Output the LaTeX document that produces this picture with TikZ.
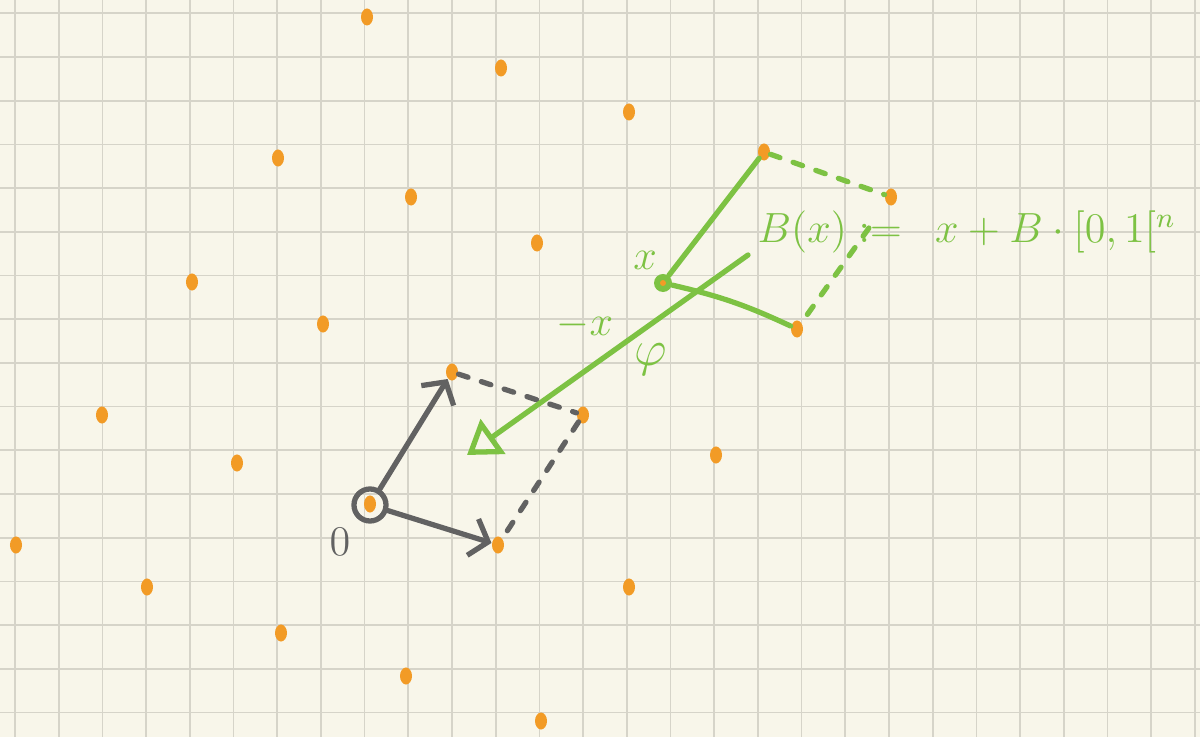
\documentclass[tikz,border=0pt]{standalone}
\usepackage{tikz}
\usetikzlibrary{arrows.meta,shapes.geometric}
\definecolor{paper}{HTML}{F8F6EA}
\definecolor{rule}{HTML}{D6D4C9}
\definecolor{dotc}{HTML}{F29B26}
\definecolor{lime}{HTML}{7DC243}
\definecolor{pen}{HTML}{626262}

\begin{document}
\begin{tikzpicture}[x=0.01cm, y=-0.01cm,
  gl/.style={draw=rule, line width=0.5pt},
  pt/.style={ellipse, fill=dotc, inner sep=0pt, minimum width=0.12cm, minimum height=0.17cm},
  vec/.style={draw=pen, line width=1.5pt, line cap=round, -{Straight Barb[length=1.6mm, width=3.8mm]}},
  dsh/.style={line width=1.5pt, line cap=round, dash pattern=on 0.1cm off 0.14cm},
  gvec/.style={draw=lime, line width=1.5pt, line cap=round, -{Triangle[open, length=3.2mm, width=4.2mm]}},
  gl2/.style={draw=lime, line width=1.5pt, line cap=round},
  lbl/.style={text=lime, font=\fontsize{12}{14}\selectfont}]
\useasboundingbox (0,0) rectangle (1200,737);
\fill[paper] (0,0) rectangle (1200,737);
% grid paper
\foreach \i in {0,...,27}
  \draw[gl] ({15+43.7*\i},0) -- ({15+43.7*\i},737);
\foreach \j in {0,...,16}
  \draw[gl] (0,{13.3+43.7*\j}) -- (1200,{13.3+43.7*\j});
% lattice points
\foreach \px/\py [count=\k] in {367/17, 501/68, 629/112, 278/158, 411/197, 537/243, 192/282,
    323/324, 102/415, 716/455, 237/463, 16/545, 147/587, 629/587, 281/633, 406/676, 541/721}
  \node[pt] (p\k) at (\px,\py) {};
\node[pt] (o) at (370,504) {};
\node[pt] (b1) at (452,372) {};
\node[pt] (b2) at (498,545) {};
\node[pt] (s) at (583,415) {};
\node[pt] (c1) at (764,152) {};
\node[pt] (c2) at (891,197) {};
\node[pt] (c3) at (797,329) {};
% basis and fundamental cell
\node[circle, draw=pen, line width=1.5pt, minimum size=0.32cm, inner sep=0pt] (oc) at (370,505) {};
\node[text=pen, font=\fontsize{13}{15}\selectfont] (zero) at (340,542) {$0$};
\draw[vec] (oc) -- (b1);
\draw[vec] (oc) -- (b2);
\draw[dsh, draw=pen] (b1) -- (s);
\draw[dsh, draw=pen] (s) -- (b2);
% the box around x
\node[circle, fill=lime, inner sep=0pt, minimum size=0.18cm] (x) at (663,283) {};
\node[circle, fill=dotc, inner sep=0pt, minimum size=0.06cm] (xi) at (x) {};
\draw[gl2] (x) -- (c1);
\draw[gl2] (x) to[bend left=6] (c3);
\draw[dsh, draw=lime] (c1) -- (c2);
\draw[dsh, draw=lime, shorten <=0.3cm] (c2) -- (c3);
\coordinate (ta) at (748,255);
\coordinate (tb) at (467,455);
\draw[gvec] (ta) -- (tb);
\node[lbl] (lx) at (645,260) {$x$};
\node[lbl] (lmx) at (585,325) {$-x$};
\node[lbl, font=\fontsize{15}{17}\selectfont] (lphi) at (651,360) {$\varphi$};
\node[lbl, anchor=west, inner sep=0pt] (bx) at (757,232) {$B(x) :=\enspace x + B\cdot[0,1[^n$};
\end{tikzpicture}
\end{document}
